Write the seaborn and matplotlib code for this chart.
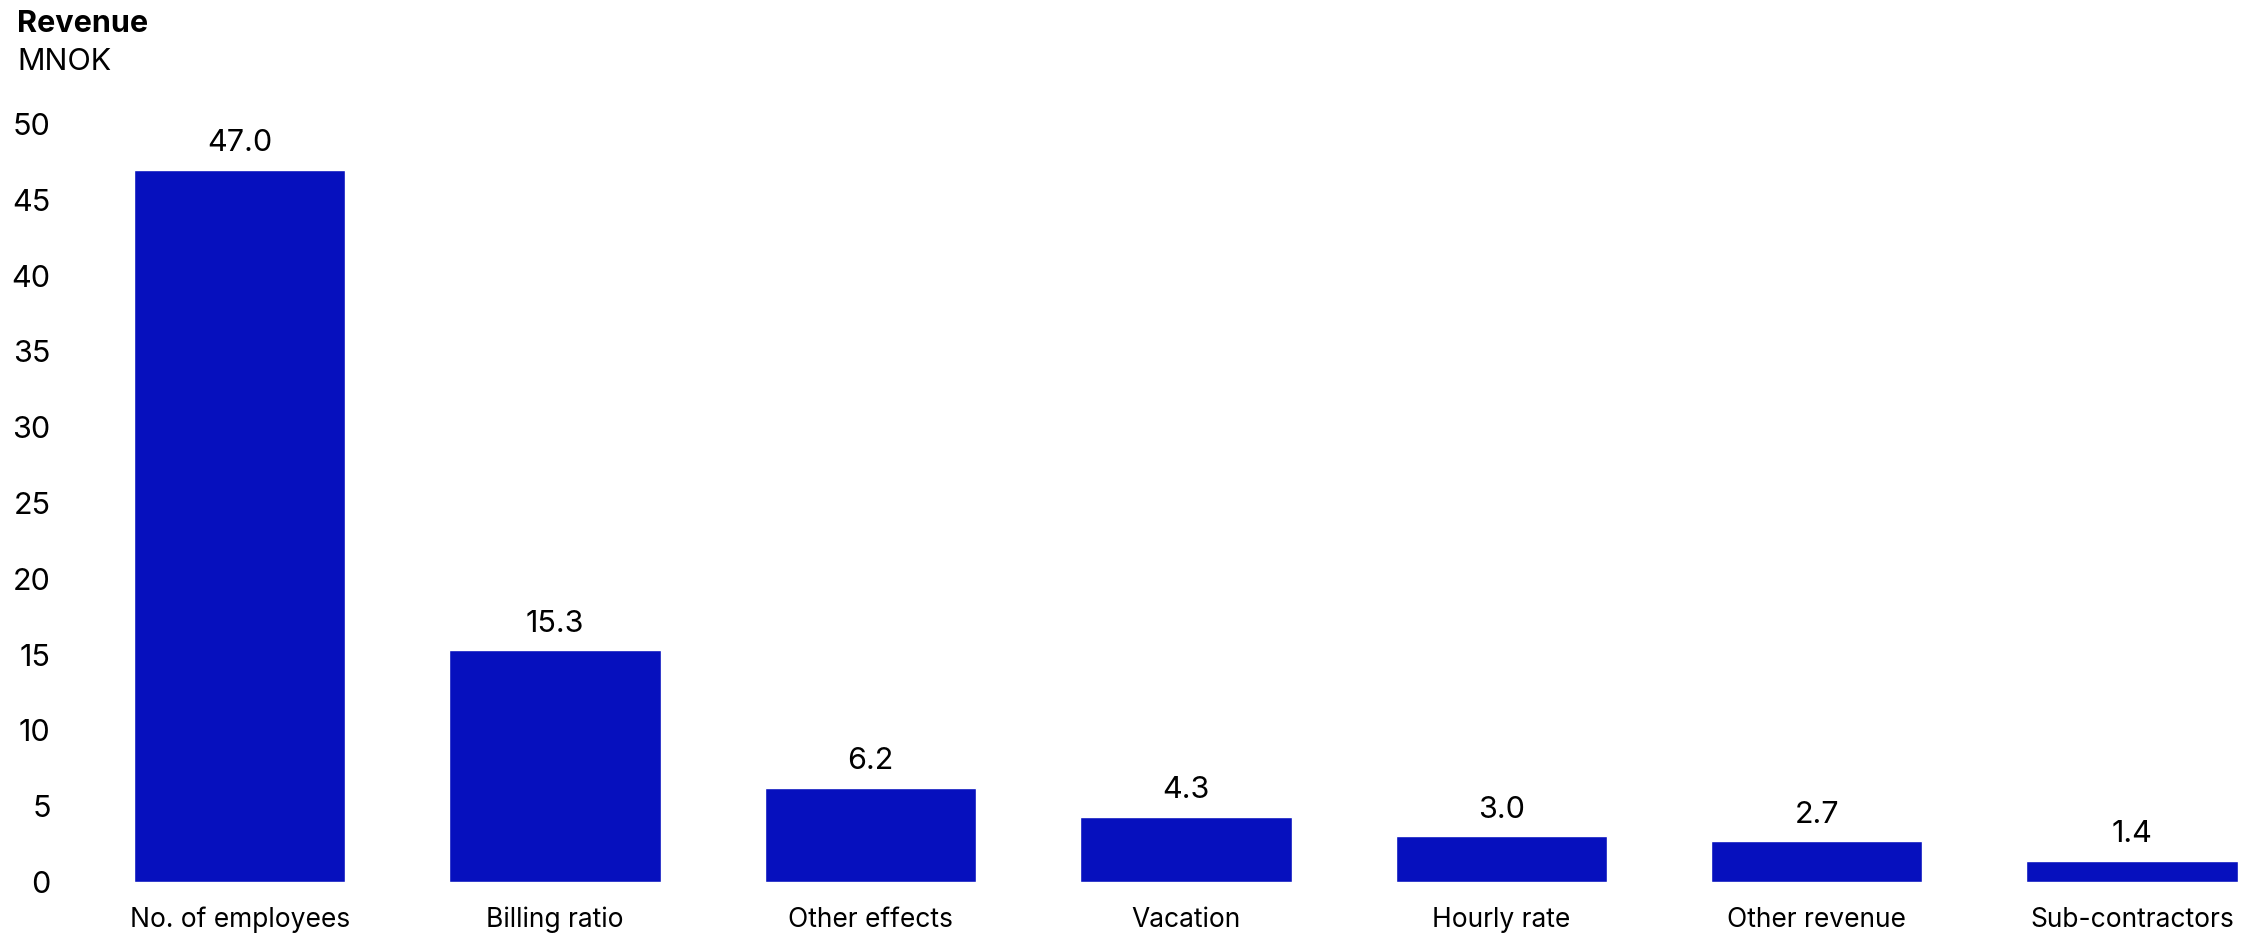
import matplotlib
matplotlib.use("Agg")
import matplotlib.pyplot as plt
import seaborn as sns
import pandas as pd

categories = ["No. of employees", "Billing ratio", "Other effects", "Vacation",
              "Hourly rate", "Other revenue", "Sub-contractors"]
values = [47.0, 15.3, 6.2, 4.3, 3.0, 2.7, 1.4]
yticks = [0, 5, 10, 15, 20, 25, 30, 35, 40, 45, 50]
title = "Revenue"
unit = "MNOK"

sns.set_theme(style="white")
plt.rcParams['font.family'] = ['Inter', 'DejaVu Sans']

df = pd.DataFrame({"cat": categories, "val": values})

fig = plt.figure(figsize=(22.67, 9.34), dpi=100)
ax = fig.add_axes([0.0591, 0.0557, 0.928, 0.8115])
sns.barplot(data=df, x="cat", y="val", color="#0610BE", width=0.67,
            saturation=1, ax=ax)
ax.set_xlim(-0.335, 6.335)
ax.set_ylim(0, 50)
ax.set_yticks(yticks)
ax.set_yticklabels([str(t) for t in yticks])
ax.set_xlabel("")
ax.set_ylabel("")
for s in ax.spines.values():
    s.set_visible(False)
ax.tick_params(axis="y", length=0, pad=60, labelsize=22, labelcolor="black")
ax.tick_params(axis="x", length=0, pad=18, labelsize=19, labelcolor="black")
for c in ax.containers:
    ax.bar_label(c, fmt="%.1f", padding=9, fontsize=22, color="black")

fig.text(17 / 2267, 1 - 24 / 934, title, fontsize=22, fontweight="bold",
         ha="left", va="center", color="black")
fig.text(17 / 2267, 1 - 62 / 934, unit, fontsize=22,
         ha="left", va="center", color="black")

fig.savefig("out.png", dpi=100, facecolor="white")
